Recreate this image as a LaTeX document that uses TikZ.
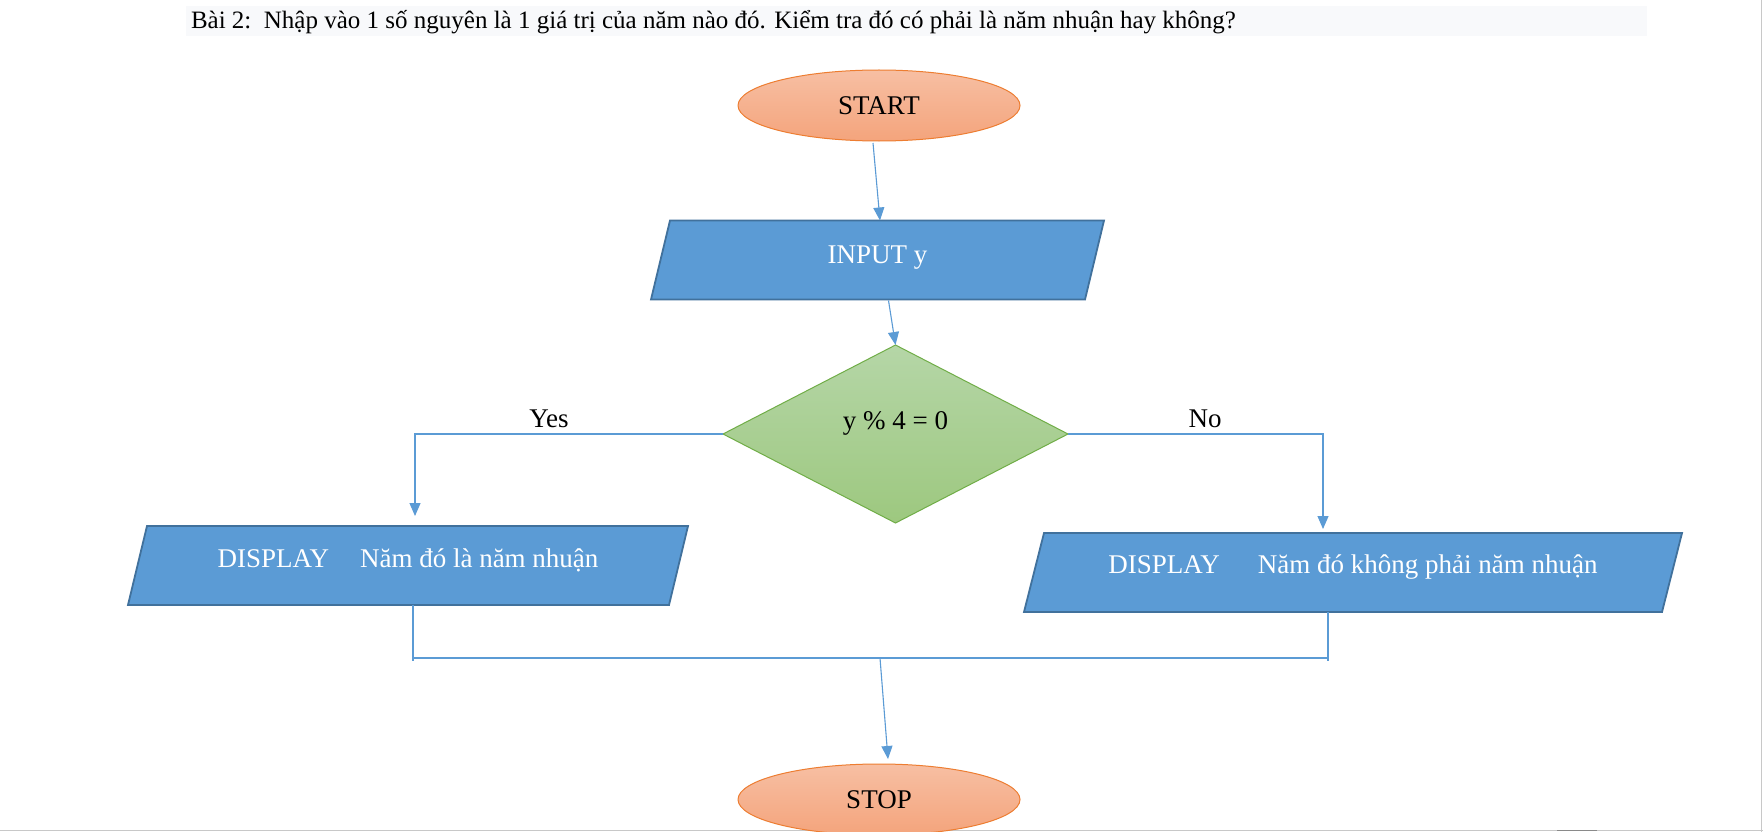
\documentclass[tikz,border=0pt]{standalone}
\usepackage{fontspec}
\setmainfont{Liberation Serif}
\usetikzlibrary{shapes.geometric, arrows.meta, backgrounds}

\definecolor{blueF}{HTML}{5B9BD5}
\definecolor{blueD}{HTML}{41719C}
\definecolor{lineB}{HTML}{5B9BD5}
\definecolor{grnT}{HTML}{B5D6A7}
\definecolor{grnB}{HTML}{9DC87F}
\definecolor{grnD}{HTML}{70AD47}
\definecolor{orT}{HTML}{F7BFA3}
\definecolor{orB}{HTML}{F4A47C}
\definecolor{orD}{HTML}{ED7D31}
\definecolor{bandC}{HTML}{F8F9FB}
\definecolor{pageC}{HTML}{C8C8C8}
\definecolor{pageD}{HTML}{8A8A8A}

\begin{document}
\begin{tikzpicture}[x=1pt,y=-1pt,
  every node/.style={inner sep=0pt, outer sep=0pt},
  bigfont/.style={font=\fontsize{27}{31}\selectfont},
  term/.style={ellipse, draw=orD, line width=1pt, top color=orT, bottom color=orB,
    minimum width=282pt, minimum height=71pt, bigfont, text height=18pt, text depth=0pt},
  parabody/.style={rectangle, text=white, minimum height=79pt, bigfont},
  parashape/.style={draw=blueD, line width=1.8pt, fill=blueF, line join=miter},
  dec/.style={diamond, draw=grnD, line width=1pt, top color=grnT, bottom color=grnB,
    minimum width=345pt, minimum height=178pt, bigfont, text height=18pt, text depth=28pt},
  conn/.style={draw=lineB, line width=1.1pt},
  arr/.style={conn, -{Triangle[length=13pt,width=11pt]}},
  lbl/.style={bigfont, text height=18pt, text depth=0pt}
]
\useasboundingbox (0,0) rectangle (1763,832);

% title band and title
\node[anchor=base west, font=\fontsize{25}{29}\selectfont] (title) at (191,29)
  {Bài 2:\ \ Nhập vào 1 số nguyên là 1 giá trị của năm nào đó. Kiểm tra đó có phải là năm nhuận hay không?};

% shapes
\node[term] (start) at (879,105.5) {START};
\node[parabody, minimum width=434pt, text height=18pt, text depth=12pt] (inp) at (877.5,260) {INPUT y};
\node[dec] (cond) at (895.5,434) {y \% 4 = 0};
\node[parabody, minimum width=541pt, text height=18pt, text depth=15pt] (yesbox) at (408,565.5)
  {DISPLAY\hspace{31pt}Năm đó là năm nhuận};
\node[parabody, minimum width=638pt, text height=18pt, text depth=17pt] (nobox) at (1353,572.5)
  {DISPLAY\hspace{38pt}Năm đó không phải năm nhuận};
\node[term] (stop) at (879,799.5) {STOP};

\begin{scope}[on background layer]
  \fill[white] (0,0) rectangle (1763,832);
  \fill[bandC] (186,6) rectangle (1647,36);
  \draw[pageC, line width=1.5pt] (1761.5,0) -- (1761.5,832);
  \draw[pageC, line width=1.5pt] (0,830.5) -- (1763,830.5);
  \draw[pageD, line width=1.5pt] (1557,830.5) -- (1597,830.5);
  \foreach \n/\s in {inp/9.5, yesbox/9.5, nobox/10}{
    \path[parashape] ([xshift=\s pt]\n.north west) -- ([xshift=\s pt]\n.north east)
      -- ([xshift=-\s pt]\n.south east) -- ([xshift=-\s pt]\n.south west) -- cycle;
  }
\end{scope}

% labels
\node[lbl] (yes) at (549,418) {Yes};
\node[lbl] (no) at (1205,418) {No};

% connector coordinates
\coordinate (yestip) at (415,516);
\coordinate (notip) at (1323,529);
\coordinate (ljoin) at (413,661);
\coordinate (rjoin) at (1328,661);
\coordinate (jl) at (413,658);
\coordinate (jr) at (1328,658);
\coordinate (jm) at (880,658);

% connectors
\draw[arr] ([shift={(-6pt,-2pt)}]start.south) -- ([xshift=2.5pt]inp.north);
\draw[arr] ([shift={(11pt,-1pt)}]inp.south) -- (cond.north);
\draw[arr] (cond.west) -| (yestip);
\draw[arr] (cond.east) -| (notip);
\draw[conn] ([xshift=5pt]yesbox.south) -- (ljoin);
\draw[conn] ([xshift=-25pt]nobox.south) -- (rjoin);
\draw[conn] (jl) -- (jr);
\draw[arr] (jm) -- ([shift={(9pt,5pt)}]stop.north);
\end{tikzpicture}
\end{document}
